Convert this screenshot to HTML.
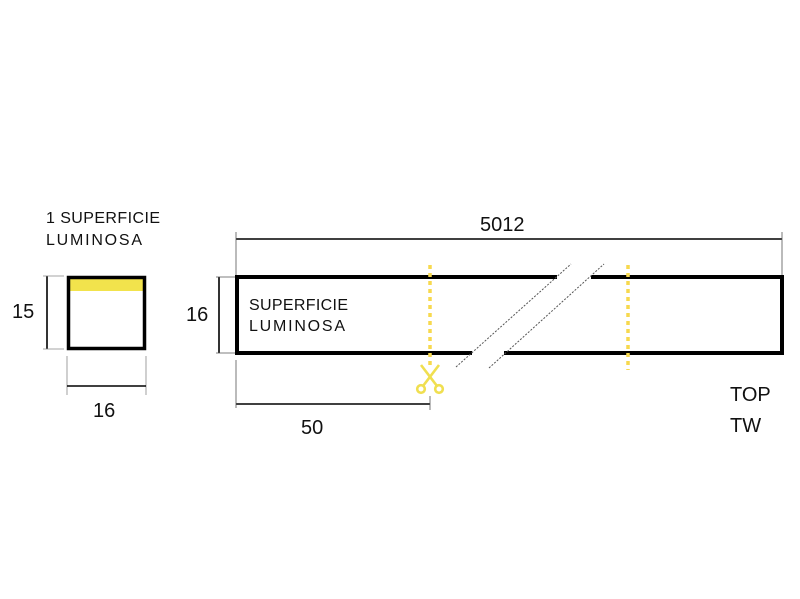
<!DOCTYPE html>
<html><head><meta charset="utf-8"><style>
html,body{margin:0;padding:0;background:#fff;}
svg{display:block}
text{font-family:"Liberation Sans","DejaVu Sans",sans-serif;fill:#111}
</style></head><body>
<svg width="800" height="599" viewBox="0 0 800 599" xmlns="http://www.w3.org/2000/svg">
<!-- small section -->
<text x="46" y="223" font-size="16" textLength="114">1 SUPERFICIE</text>
<text x="46" y="245" font-size="16" textLength="96">LUMINOSA</text>
<rect x="70" y="279" width="73" height="12" fill="#f2e34c"/>
<rect x="68.5" y="277.5" width="76" height="71" fill="none" stroke="#000" stroke-width="3.5"/>
<line x1="47" y1="276" x2="47" y2="349" stroke="#000" stroke-width="1.6"/>
<g stroke="#888" stroke-width="0.8">
<line x1="43" y1="276" x2="64" y2="276"/>
<line x1="43" y1="349" x2="64" y2="349"/>
<line x1="67" y1="356" x2="67" y2="395"/>
<line x1="146" y1="356" x2="146" y2="395"/>
</g>
<line x1="67" y1="386" x2="146" y2="386" stroke="#000" stroke-width="1.6"/>
<text x="12" y="318" font-size="20">15</text>
<text x="93" y="417" font-size="20">16</text>

<!-- main bar -->
<g stroke="#000" stroke-width="4" fill="none">
<line x1="235" y1="277" x2="557" y2="277"/>
<line x1="591" y1="277" x2="784" y2="277"/>
<line x1="235" y1="353" x2="472" y2="353"/>
<line x1="504" y1="353" x2="784" y2="353"/>
<line x1="237" y1="275" x2="237" y2="355"/>
<line x1="782" y1="275" x2="782" y2="355"/>
</g>
<g stroke="#555" stroke-width="1" stroke-dasharray="2,1.5">
<line x1="456" y1="367" x2="571" y2="264"/>
<line x1="489" y1="368" x2="604" y2="264"/>
</g>
<g stroke="#f7d94e" stroke-width="3.5" stroke-dasharray="4,4">
<line x1="430" y1="265" x2="430" y2="368"/>
<line x1="628" y1="265" x2="628" y2="370"/>
</g>
<!-- scissors -->
<g stroke="#f0df50" stroke-width="2.6" fill="none">
<line x1="421" y1="365" x2="437" y2="386"/>
<line x1="439" y1="365" x2="423" y2="386"/>
<circle cx="421" cy="389" r="3.8"/>
<circle cx="439" cy="389" r="3.8"/>
</g>
<text x="249" y="310" font-size="16" textLength="99">SUPERFICIE</text>
<text x="249" y="331" font-size="16" textLength="96">LUMINOSA</text>
<!-- dims -->
<g stroke="#000" stroke-width="1.6">
<line x1="236" y1="239" x2="782" y2="239"/>
<line x1="219" y1="277" x2="219" y2="353"/>
<line x1="236" y1="404" x2="430" y2="404"/>
</g>
<g stroke="#555" stroke-width="0.8">
<line x1="236" y1="232" x2="236" y2="275"/>
<line x1="782" y1="232" x2="782" y2="275"/>
<line x1="216" y1="277" x2="235" y2="277"/>
<line x1="216" y1="353" x2="235" y2="353"/>
<line x1="236" y1="360" x2="236" y2="408"/>
<line x1="430" y1="396" x2="430" y2="410"/>
</g>
<text x="480" y="231" font-size="20">5012</text>
<text x="186" y="321" font-size="20">16</text>
<text x="301" y="434" font-size="20">50</text>
<text x="730" y="401" font-size="20">TOP</text>
<text x="730" y="432" font-size="20">TW</text>
</svg>
</body></html>
